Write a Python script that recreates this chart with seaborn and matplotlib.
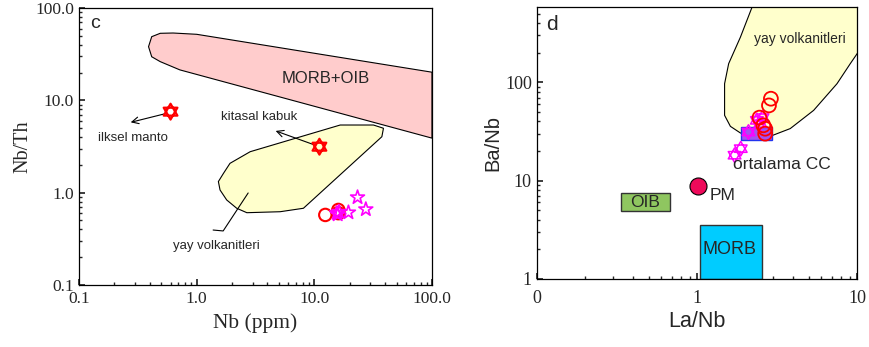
import numpy as np
import pandas as pd
import matplotlib
matplotlib.use("Agg")
import matplotlib.pyplot as plt
from matplotlib.patches import Rectangle
from matplotlib.path import Path
import seaborn as sns

# ---------------- data: panel c (Nb vs Nb/Th) ----------------
morb_oib_nb = [0.39, 0.415, 0.49, 0.63, 1.0, 100.0, 100.0, 0.72, 0.49, 0.415]
morb_oib_ratio = [38.2, 49.0, 53.3, 53.7, 52.0, 20.2, 3.9, 21.4, 26.3, 29.7]

arc_c_nb = [1.53, 1.69, 1.92, 2.85, 16.6, 31.8, 38.7, 37.5, 8.08, 5.12, 2.67, 2.19, 1.80, 1.58]
arc_c_ratio = [1.32, 1.62, 2.08, 2.78, 5.41, 5.41, 4.99, 4.04, 0.678, 0.622, 0.607, 0.678, 0.834, 1.07]

ref_names = ["ilksel manto", "kitasal kabuk"]
ref_nb = [0.60, 11.05]
ref_ratio = [7.55, 3.15]

circ_c_nb = [12.4, 16.0, 16.0]
circ_c_ratio = [0.574, 0.65, 0.60]

star_c_nb = [15.5, 16.2, 15.8, 19.5, 23.3, 27.4]
star_c_ratio = [0.60, 0.62, 0.58, 0.61, 0.89, 0.66]

# ---------------- data: panel d (La/Nb vs Ba/Nb) ----------------
arc_d_lanb = [2.31, 1.87, 1.58, 1.49, 1.49, 1.62, 1.87, 2.26, 2.87, 3.83, 5.36, 7.5, 9.08, 10.5, 10.5]
arc_d_banb = [700, 288, 155, 96.8, 46.1, 35.6, 30.5, 28.2, 28.2, 33.8, 51.8, 96.8, 155, 219, 700]

cc_lanb = [1.89, 2.93]
cc_banb = [25.7, 35.0]
oib_lanb = [0.336, 0.681]
oib_banb = [4.84, 7.48]
morb_lanb = [1.04, 2.55]
morb_banb = [1.0, 3.51]

pm_lanb = [1.01]
pm_banb = [8.75]

circ_d_lanb = [2.90, 2.82, 2.46, 2.67, 2.67, 2.60]
circ_d_banb = [68.1, 58.2, 43.7, 33.7, 30.0, 36.5]

hex_d_lanb = [1.72, 1.88, 2.10, 2.37, 2.57, 2.49]
hex_d_banb = [18.1, 21.1, 31.2, 41.0, 43.7, 37.9]

# ---------------- hexagram (star of David) marker shape: two triangles ----------------
_a_up = np.pi / 2 + np.arange(3) * 2 * np.pi / 3
_a_dn = -np.pi / 2 + np.arange(3) * 2 * np.pi / 3
_tri_up = np.column_stack([np.cos(_a_up), np.sin(_a_up)])
_tri_dn = np.column_stack([np.cos(_a_dn), np.sin(_a_dn)])
_verts = np.vstack([_tri_up, _tri_up[:1], _tri_dn, _tri_dn[:1]])
_codes = ([Path.MOVETO, Path.LINETO, Path.LINETO, Path.CLOSEPOLY] * 2)
HEX = Path(_verts, _codes)

# ---------------- style ----------------
sns.set_theme(style="ticks")
plt.rcParams.update({
    "xtick.direction": "in", "ytick.direction": "in",
    "axes.edgecolor": "black", "axes.linewidth": 0.9,
    "xtick.major.size": 4, "ytick.major.size": 4,
    "xtick.minor.size": 2.5, "ytick.minor.size": 2.5,
    "xtick.minor.visible": True, "ytick.minor.visible": True,
})
plt.rcParams["font.family"] = ["Liberation Sans", "DejaVu Sans"]
serif = ["Liberation Serif", "DejaVu Serif"]

fig = plt.figure(figsize=(8.69, 3.47), dpi=100)
axc = fig.add_axes([0.0909, 0.1787, 0.4062, 0.798])
axd = fig.add_axes([0.6176, 0.1968, 0.3686, 0.782])

# ---------------- panel c ----------------
axc.set_xscale("log"); axc.set_yscale("log")
axc.set_xlim(0.1, 100); axc.set_ylim(0.1, 100)
axc.fill(morb_oib_nb, morb_oib_ratio, facecolor="#FFCCCC", edgecolor="black", lw=0.8, zorder=1)
axc.fill(arc_c_nb, arc_c_ratio, facecolor="#FFFFCC", edgecolor="black", lw=0.8, zorder=1)

ref_df = pd.DataFrame({"nb": ref_nb, "r": ref_ratio})
sns.scatterplot(data=ref_df, x="nb", y="r", marker=HEX, s=130, facecolor="none",
                edgecolor="red", linewidth=1.6, ax=axc, zorder=4)
sns.scatterplot(x=circ_c_nb, y=circ_c_ratio, marker="o", s=80, facecolor="none",
                edgecolor="red", linewidth=1.5, ax=axc, zorder=3)
sns.scatterplot(x=star_c_nb, y=star_c_ratio, marker="*", s=110, facecolor="none",
                edgecolor="magenta", linewidth=1.2, ax=axc, zorder=4)

axc.annotate("", xy=(0.261, 5.69), xytext=(0.571, 7.3),
             arrowprops=dict(arrowstyle="->", color="black", lw=0.8))
axc.text(0.286, 3.94, "ilksel manto", ha="center", va="center", fontsize=9.5)
axc.annotate("", xy=(4.46, 4.78), xytext=(10.6, 3.21),
             arrowprops=dict(arrowstyle="->", color="black", lw=0.8))
axc.text(3.39, 6.61, "kitasal kabuk", ha="center", va="center", fontsize=9.5)
axc.plot([1.38, 1.68, 2.74], [0.394, 0.385, 0.993], color="black", lw=0.8)
axc.text(1.46, 0.265, "yay volkanitleri", ha="center", va="center", fontsize=9.5)
axc.text(12.6, 17.1, "MORB+OIB", ha="center", va="center", fontsize=12)
axc.text(0.045, 0.946, "c", transform=axc.transAxes, ha="center", va="center", fontsize=14)

axc.set_xticks([0.1, 1, 10, 100])
axc.set_xticklabels(["0.1", "1.0", "10.0", "100.0"])
axc.set_yticks([0.1, 1, 10, 100])
axc.set_yticklabels(["0.1", "1.0", "10.0", "100.0"])
for lab in axc.get_xticklabels() + axc.get_yticklabels():
    lab.set_family(serif); lab.set_fontsize(12.5)
axc.tick_params(which="both", top=False, right=False)
axc.tick_params(axis="x", pad=4)
axc.set_xlabel("Nb (ppm)", family=serif, fontsize=15.5, labelpad=5)
axc.set_ylabel("Nb/Th", family=serif, fontsize=14.5, labelpad=2)

# ---------------- panel d ----------------
axd.set_xscale("log"); axd.set_yscale("log")
axd.set_xlim(0.1, 10); axd.set_ylim(1, 580)
axd.fill(arc_d_lanb, arc_d_banb, facecolor="#FFFFCC", edgecolor="black", lw=0.8, zorder=1)
axd.add_patch(Rectangle((cc_lanb[0], cc_banb[0]), cc_lanb[1] - cc_lanb[0], cc_banb[1] - cc_banb[0],
                        facecolor="#A650F0", edgecolor="#2233EE", lw=1.0, zorder=2))
axd.add_patch(Rectangle((oib_lanb[0], oib_banb[0]), oib_lanb[1] - oib_lanb[0], oib_banb[1] - oib_banb[0],
                        facecolor="#8FC660", edgecolor="#333333", lw=1.0, zorder=2))
axd.add_patch(Rectangle((morb_lanb[0], morb_banb[0]), morb_lanb[1] - morb_lanb[0], morb_banb[1] - morb_banb[0],
                        facecolor="#00CCFF", edgecolor="#333333", lw=1.0, zorder=2))

sns.scatterplot(x=pm_lanb, y=pm_banb, marker="o", s=150, color="#EE0A5A",
                edgecolor="black", linewidth=0.8, ax=axd, zorder=4)
sns.scatterplot(x=hex_d_lanb, y=hex_d_banb, marker=HEX, s=110, facecolor="none",
                edgecolor="magenta", linewidth=1.1, ax=axd, zorder=3)
sns.scatterplot(x=circ_d_lanb, y=circ_d_banb, marker="o", s=100, facecolor="none",
                edgecolor="red", linewidth=1.3, ax=axd, zorder=4)

axd.text(4.42, 279, "yay volkanitleri", ha="center", va="center", fontsize=10)
axd.text(1.69, 14.6, "ortalama CC", ha="left", va="center", fontsize=12.5)
axd.text(1.21, 7.09, "PM", ha="left", va="center", fontsize=12.5)
axd.text(0.478, 6.02, "OIB", ha="center", va="center", fontsize=12.5)
axd.text(1.61, 2.0, "MORB", ha="center", va="center", fontsize=13)
axd.text(0.047, 0.938, "d", transform=axd.transAxes, ha="center", va="center", fontsize=15)

axd.set_xticks([0.1, 1, 10])
axd.set_xticklabels(["0", "1", "10"])
axd.set_yticks([1, 10, 100])
axd.set_yticklabels(["1", "10", "100"])
for lab in axd.get_xticklabels() + axd.get_yticklabels():
    lab.set_family(serif); lab.set_fontsize(13)
axd.tick_params(which="both", top=False, right=False)
axd.tick_params(axis="x", pad=8)
axd.set_xlabel("La/Nb", fontsize=15.5, labelpad=3)
axd.set_ylabel("Ba/Nb", fontsize=14.5, labelpad=2)

fig.savefig("out.png", dpi=100)
